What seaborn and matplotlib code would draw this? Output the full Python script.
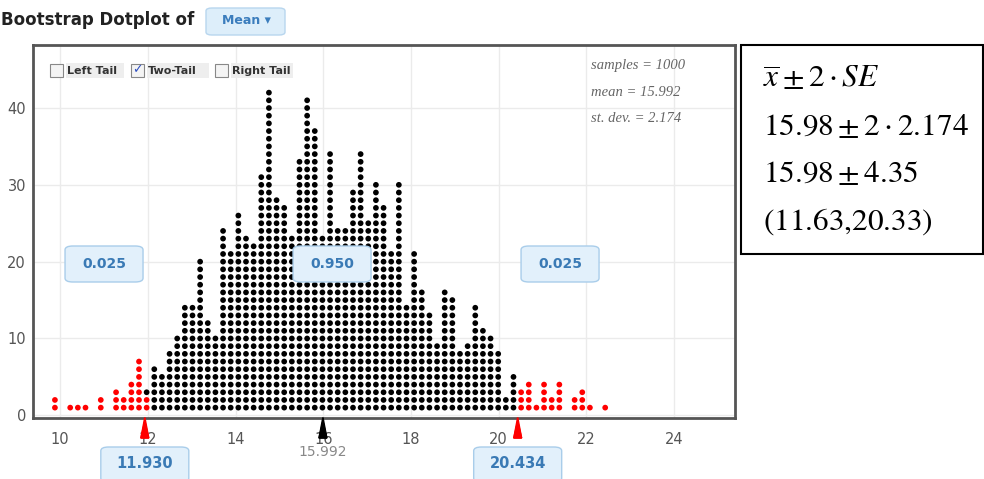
import numpy as np
import pandas as pd
import matplotlib
matplotlib.use("Agg")
import matplotlib.pyplot as plt
import matplotlib.transforms as mtrans
from matplotlib.patches import FancyBboxPatch, Rectangle, Polygon
import seaborn as sns

# dot counts per column (bootstrap means, 1000 samples), left to right
col_heights = [2, 0, 1, 1, 1, 0, 2, 0, 3, 2, 4, 7, 3,
               6, 5, 8, 10, 14, 14, 20, 12, 10,
               24, 21, 26, 23, 22, 31, 42, 28, 27,
               23, 33, 41, 37, 23, 34, 24, 24, 29,
               34, 25, 30, 27, 21, 30, 14, 21, 16,
               13, 9, 16, 15, 8, 9, 14, 11, 10,
               8, 2, 5, 3, 4, 1, 4, 2, 4, 0, 2, 3, 1, 0, 1]
# how many dots of each column fall in the tails (drawn red)
tail_counts = [2, 0, 1, 1, 1, 0, 2, 0, 3, 2, 4, 7, 2] + [0] * 48 + \
              [3, 4, 1, 4, 2, 4, 0, 2, 3, 1, 0, 1]
bin_start = 9.88
bin_width = 0.1743

n_samples = 1000
mean_val = 15.992
sd_val = 2.174
lower_cut = 11.930
upper_cut = 20.434
proportions = ["0.025", "0.950", "0.025"]
prop_x = [11.0, 16.2, 21.4]

formula_lines = [r"$\overline{x}\pm 2\cdot SE$",
                 r"$15.98\pm 2\cdot 2.174$",
                 r"$15.98\pm 4.35$",
                 r"$(11.63{,}20.33)$"]

# build one row per dot
rows = []
for k, h in enumerate(col_heights):
    for i in range(1, h + 1):
        rows.append({"x": bin_start + k * bin_width, "y": i,
                     "part": "tail" if i <= tail_counts[k] else "middle"})
dots = pd.DataFrame(rows)

sns.set_style("white")
plt.rcParams["mathtext.fontset"] = "stix"

W, H = 984, 479
fig = plt.figure(figsize=(W / 100, H / 100), dpi=100)

def fx(px):
    return px / W

def fy(py):
    return 1 - py / H

ax = fig.add_axes([fx(33), fy(418), fx(735) - fx(33), fy(45) - fy(418)])
sns.scatterplot(data=dots, x="x", y="y", hue="part",
                palette={"middle": "black", "tail": "#ff0000"},
                s=17, linewidth=0, legend=False, ax=ax)
ax.set_xlim(9.38, 25.39)
ax.set_ylim(-0.35, 48.2)
ax.set_xticks(range(10, 25, 2))
ax.set_yticks(range(0, 41, 10))
ax.grid(True, color="#ebebeb", lw=1)
ax.set_axisbelow(True)
ax.set_xlabel("")
ax.set_ylabel("")
ax.tick_params(length=0, labelsize=10.5, labelcolor="#555555")
ax.tick_params(axis="x", pad=10)
ax.tick_params(axis="y", pad=5)
for sp in ax.spines.values():
    sp.set_color("#555555")
    sp.set_linewidth(2)

# title and dropdown
fig.text(fx(1), fy(20), "Bootstrap Dotplot of", fontsize=12,
         fontweight="bold", color="#222222", va="center", ha="left")
fig.patches.append(FancyBboxPatch((fx(206), fy(35)), fx(79), fy(8) - fy(35),
                                  boxstyle="round,pad=0,rounding_size=0.006",
                                  transform=fig.transFigure, fc="#ddeefa",
                                  ec="#b8d6ee", lw=1))
fig.text(fx(246), fy(21), "Mean \u25be", fontsize=9, fontweight="bold",
         color="#3b7dbd", ha="center", va="center")

# tail checkboxes
for bx, lab, checked, lw_ in [(50, "Left Tail", False, 58),
                              (131, "Two-Tail", True, 62),
                              (215, "Right Tail", False, 62)]:
    fig.patches.append(Rectangle((fx(bx), fy(77)), fx(13), fy(64) - fy(77),
                                 transform=fig.transFigure, fc="#f4f4f4",
                                 ec="#888888", lw=0.8))
    if checked:
        fig.text(fx(bx + 6.5), fy(70), "\u2713", fontsize=9, color="#3050c0",
                 ha="center", va="center")
    fig.patches.append(Rectangle((fx(bx + 16), fy(78)), fx(lw_), fy(63) - fy(78),
                                 transform=fig.transFigure, fc="#eeeeee",
                                 ec="none"))
    fig.text(fx(bx + 17), fy(71), lab, fontsize=8, fontweight="bold",
             color="#333333", ha="left", va="center")

# summary stats
for i, s in enumerate([f"samples = {n_samples}", f"mean = {mean_val}",
                       f"st. dev. = {sd_val}"]):
    fig.text(fx(591), fy(66 + 26 * i), s, fontsize=10.5, style="italic",
             family="Liberation Serif", color="#666666", ha="left", va="center")

# proportion labels
for p, xv in zip(proportions, prop_x):
    xp = ax.transData.transform((xv, 0))[0]
    fig.patches.append(FancyBboxPatch((xp / W - fx(39), fy(282)), fx(78), fy(246) - fy(282),
                                      boxstyle="round,pad=0,rounding_size=0.008",
                                      transform=fig.transFigure, fc="#e2f0fb",
                                      ec="#a9cdea", lw=1))
    fig.text(xp / W, fy(264), p, fontsize=10, fontweight="bold",
             color="#3a7ab5", ha="center", va="center")

# cut-off markers below the axis
blend = mtrans.blended_transform_factory(ax.transData, fig.transFigure)
for xv, col in [(lower_cut, "#ff0000"), (upper_cut, "#ff0000"), (mean_val, "black")]:
    ax.add_patch(Polygon([(xv - 0.004, fy(418)), (xv + 0.004, fy(418)),
                          (xv + 0.09, fy(438)), (xv - 0.09, fy(438))],
                         closed=True, transform=blend, fc=col, ec=col,
                         clip_on=False, zorder=5))
    ax.add_patch(Polygon([(xv, fy(421)), (xv + 0.09, fy(438)), (xv - 0.09, fy(438))],
                         closed=True, transform=blend, fc=col, ec=col,
                         clip_on=False, zorder=5))
fig.text(ax.transData.transform((mean_val, 0))[0] / W, fy(452), f"{mean_val}",
         fontsize=10, color="#888888", ha="center", va="center")
for xv in [lower_cut, upper_cut]:
    xp = ax.transData.transform((xv, 0))[0]
    fig.patches.append(FancyBboxPatch((xp / W - fx(44), fy(482)), fx(88), fy(447) - fy(482),
                                      boxstyle="round,pad=0,rounding_size=0.008",
                                      transform=fig.transFigure, fc="#e2f0fb",
                                      ec="#a9cdea", lw=1))
    fig.text(xp / W, fy(464), f"{xv:.3f}", fontsize=10.5, fontweight="bold",
             color="#3a7ab5", ha="center", va="center")

# formula box
fig.patches.append(Rectangle((fx(741), fy(254)), fx(242), fy(45) - fy(254),
                             transform=fig.transFigure, fc="white",
                             ec="black", lw=1.5))
for i, line in enumerate(formula_lines):
    fig.text(fx(763), fy(87 + 47.5 * i), line, fontsize=22.5, color="black",
             ha="left", va="baseline")

fig.savefig("out.png", dpi=100)
